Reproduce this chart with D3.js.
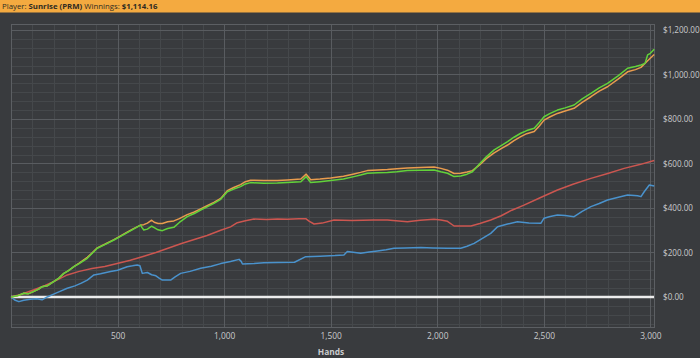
<!DOCTYPE html>
<html><head><meta charset="utf-8">
<script src="https://cdn.jsdelivr.net/npm/d3@7"></script>
<style>html,body{margin:0;padding:0;background:#393b3e;}svg{display:block;}</style>
</head><body>
<svg id="c" width="700" height="358"></svg>
<script>
// ---- data: [hands, winnings] ----
const greenSeries = [[0,0],[30,5],[60,17],[80,14],[105,24],[130,35],[146,46],[170,50],[200,69],[225,85],[248,106],[270,118],[295,136],[320,150],[358,174],[380,195],[405,219],[440,235],[483,256],[510,270],[545,289],[575,305],[608,323],[615,312],[623,301],[640,305],[660,318],[672,312],[690,302],[710,298],[735,308],[764,313],[790,335],[827,361],[860,375],[890,391],[920,405],[952,421],[984,439],[1015,473],[1045,485],[1077,496],[1100,508],[1124,514],[1187,511],[1250,512],[1297,514],[1360,518],[1385,541],[1395,528],[1406,514],[1450,518],[1500,523],[1560,530],[1609,541],[1640,548],[1672,556],[1720,558],[1766,560],[1810,563],[1860,568],[1920,570],[1985,571],[2017,563],[2048,556],[2079,541],[2110,544],[2140,552],[2165,563],[2200,600],[2230,630],[2267,661],[2300,680],[2330,698],[2360,718],[2392,736],[2420,748],[2455,758],[2480,785],[2501,810],[2530,825],[2564,840],[2600,850],[2642,863],[2680,890],[2721,915],[2760,940],[2799,960],[2850,995],[2893,1028],[2930,1036],[2956,1043],[2975,1050],[2987,1088],[3000,1095],[3018,1114]];
const orangeSeries = [[0,0],[30,5],[60,17],[80,14],[105,24],[130,35],[146,46],[170,50],[200,69],[225,85],[248,106],[270,118],[295,136],[320,152],[358,178],[380,197],[405,221],[440,237],[483,258],[510,272],[545,291],[575,307],[608,323],[623,325],[640,332],[660,345],[672,336],[690,330],[710,330],[735,338],[764,342],[790,352],[827,370],[860,382],[890,396],[920,410],[952,425],[984,443],[1015,478],[1045,492],[1077,505],[1100,518],[1124,525],[1187,524],[1250,524],[1297,526],[1360,530],[1385,552],[1395,540],[1406,527],[1450,530],[1500,535],[1560,543],[1609,553],[1640,560],[1672,568],[1720,571],[1766,573],[1810,576],[1860,580],[1920,582],[1985,584],[2017,578],[2048,570],[2079,555],[2110,556],[2140,562],[2165,568],[2200,595],[2230,622],[2267,648],[2300,667],[2330,683],[2360,703],[2392,721],[2420,734],[2455,744],[2480,770],[2501,795],[2530,810],[2564,825],[2600,836],[2642,848],[2680,875],[2721,900],[2760,925],[2799,945],[2850,980],[2893,1012],[2930,1022],[2956,1032],[2987,1062],[3018,1090]];
const redSeries = [[0,0],[50,12],[105,31],[160,52],[220,78],[264,99],[320,115],[380,128],[440,137],[498,150],[560,165],[620,182],[680,200],[740,220],[800,240],[860,258],[920,276],[984,300],[1030,315],[1062,334],[1100,343],[1140,350],[1200,348],[1250,350],[1297,349],[1350,352],[1383,352],[1400,340],[1422,328],[1460,332],[1516,346],[1600,344],[1700,346],[1766,346],[1820,342],[1860,338],[1920,345],[1985,349],[2017,346],[2048,340],[2079,319],[2120,319],[2158,319],[2200,330],[2251,346],[2300,365],[2350,390],[2407,413],[2480,445],[2564,481],[2640,508],[2721,533],[2800,555],[2877,578],[2950,595],[3018,613]];
const blueSeries = [[0,0],[20,-15],[37,-21],[60,-15],[90,-10],[120,-8],[146,-13],[170,0],[200,13],[230,25],[264,39],[300,50],[330,62],[358,76],[389,99],[420,104],[467,114],[500,120],[545,136],[570,140],[592,144],[605,140],[616,106],[640,110],[660,100],[680,95],[695,85],[710,76],[749,76],[770,90],[796,106],[840,115],[890,129],[940,138],[984,150],[1030,159],[1070,169],[1080,160],[1086,148],[1140,150],[1187,154],[1250,155],[1330,156],[1383,181],[1450,183],[1520,186],[1562,189],[1578,204],[1641,196],[1680,202],[1719,207],[1760,212],[1797,219],[1850,220],[1923,222],[1980,220],[2048,219],[2110,219],[2140,228],[2173,241],[2210,262],[2251,286],[2283,316],[2330,328],[2376,338],[2430,333],[2486,331],[2501,354],[2530,362],[2564,368],[2600,366],[2642,361],[2680,385],[2721,406],[2760,420],[2799,436],[2850,448],[2893,458],[2940,455],[2956,451],[2971,473],[2995,503],[3018,499]];
const xTickValues = [500,1000,1500,2000,2500,3000];
const yTickValues = [0,200,400,600,800,1000,1200];
const playerName = "Sunrise (PRM)";
const winningsText = "$1,114.16";

const svg = d3.select("#c");
const W = 700, H = 358;
const L = 11, R = 654, T = 24, B = 327;
const x = d3.scaleLinear().domain([0, 3017]).range([L, R]);
const y = d3.scaleLinear().domain([-135, 1227]).range([B, T]);

svg.append("rect").attr("width", W).attr("height", H).attr("fill", "#393b3e");

// header
svg.append("rect").attr("x",0).attr("y",0).attr("width",W).attr("height",12.5).attr("fill","#f4aa40");
const ht = svg.append("text").attr("x",2).attr("y",9.2)
  .attr("font-family","'Open Sans', sans-serif").attr("font-size","7.8px").attr("fill","#2e2a22");
ht.append("tspan").text("Player: ");
ht.append("tspan").attr("font-weight","bold").text(playerName);
ht.append("tspan").text(" Winnings: ");
ht.append("tspan").attr("font-weight","bold").text(winningsText);

// grid
const g = svg.append("g");
const minorX = d3.range(100, 3017, 100).filter(v => v % 500 !== 0);
const minorY = d3.range(-120, 1227, 40).filter(v => v % 200 !== 0);
g.selectAll(".mx").data(minorX).join("line")
  .attr("x1", d => Math.round(x(d)) + 0.5).attr("x2", d => Math.round(x(d)) + 0.5)
  .attr("y1", T).attr("y2", B).attr("stroke", "#45484b").attr("stroke-width", 1);
g.selectAll(".my").data(minorY).join("line")
  .attr("y1", d => Math.round(y(d)) + 0.5).attr("y2", d => Math.round(y(d)) + 0.5)
  .attr("x1", L).attr("x2", R).attr("stroke", "#45484b").attr("stroke-width", 1);
g.selectAll(".Mx").data(xTickValues).join("line")
  .attr("x1", d => Math.round(x(d)) + 0.5).attr("x2", d => Math.round(x(d)) + 0.5)
  .attr("y1", T).attr("y2", B).attr("stroke", "#595c60").attr("stroke-width", 1);
g.selectAll(".My").data(yTickValues).join("line")
  .attr("y1", d => Math.round(y(d)) + 0.5).attr("y2", d => Math.round(y(d)) + 0.5)
  .attr("x1", L).attr("x2", R).attr("stroke", "#595c60").attr("stroke-width", 1);
svg.append("rect").attr("x", L + 0.5).attr("y", T + 0.5).attr("width", R - L).attr("height", B - T)
  .attr("fill", "none").attr("stroke", "#5c5f63");

// zero line
svg.append("line").attr("x1", L).attr("x2", R).attr("y1", y(0)).attr("y2", y(0))
  .attr("stroke", "#ececec").attr("stroke-width", 2.6);

// series
const line = d3.line().x(d => x(d[0])).y(d => y(d[1]));
const series = [
  {data: blueSeries, color: "#4a92cc"},
  {data: redSeries, color: "#cc5650"},
  {data: orangeSeries, color: "#e99c4e"},
  {data: greenSeries, color: "#62d23a"}
];
svg.append("g").selectAll("path").data(series).join("path")
  .attr("d", d => line(d.data)).attr("fill", "none")
  .attr("stroke", d => d.color).attr("stroke-width", 1.5).attr("stroke-linejoin", "round");

// axes
const yAxis = d3.axisRight(y).tickValues(yTickValues).tickSize(0).tickPadding(0).tickFormat(d3.format("$,.2f"));
const ya = svg.append("g").attr("transform", `translate(${R + 9},0)`).call(yAxis);
ya.select(".domain").remove();
ya.selectAll("text").attr("fill", "#c9cacc").attr("font-family", "'Open Sans', sans-serif").attr("font-size", "8.1px");

const xAxis = d3.axisBottom(x).tickValues(xTickValues).tickSize(0).tickPadding(0).tickFormat(d3.format(","));
const xa = svg.append("g").attr("transform", `translate(0,${B + 6})`).call(xAxis);
xa.select(".domain").remove();
xa.selectAll("text").attr("fill", "#c9cacc").attr("font-family", "'Open Sans', sans-serif").attr("font-size", "8.4px");

svg.append("text").attr("x", 331).attr("y", 355).attr("text-anchor", "middle")
  .attr("fill", "#c9cacc").attr("font-family", "'Open Sans', sans-serif").attr("font-size", "8.4px")
  .attr("font-weight", "bold").text("Hands");
</script>
</body></html>
